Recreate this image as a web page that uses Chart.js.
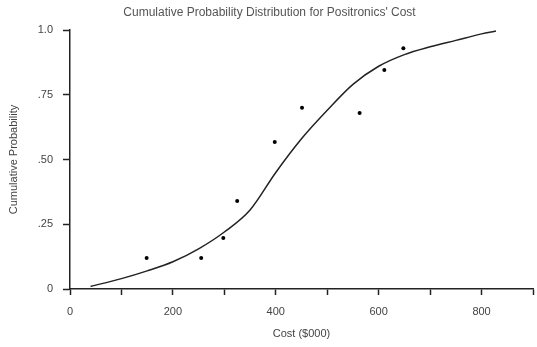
<!DOCTYPE html>
<html>
<head>
<meta charset="utf-8">
<script src="https://cdn.jsdelivr.net/npm/chart.js@4/dist/chart.umd.min.js"></script>
<style>
  body { margin: 0; background: #fff; }
  canvas { display: block; }
</style>
</head>
<body>
<canvas id="cdfChart" width="537" height="347"></canvas>
<script>
// fitted curve (cost in $000, cumulative probability)
var curveCost = [40, 100, 150, 200, 250, 300, 350, 400, 450, 500, 550, 600, 650, 700, 750, 800, 828];
var curveProb = [0.01, 0.04, 0.07, 0.105, 0.155, 0.22, 0.305, 0.45, 0.58, 0.69, 0.79, 0.86, 0.905, 0.935, 0.96, 0.985, 0.996];

// observed points
var obsCost = [149, 255, 298, 325, 398, 451, 563, 611, 648];
var obsProb = [0.12, 0.12, 0.197, 0.34, 0.568, 0.70, 0.68, 0.846, 0.93];

var yTickLabels = {0: '0', 0.25: '.25', 0.5: '.50', 0.75: '.75', 1: '1.0'};

function toPoints(xs, ys) {
    var pts = [];
    for (var i = 0; i < xs.length; i++) pts.push({x: xs[i], y: ys[i]});
    return pts;
}

var font = 'Liberation Sans, Arial, sans-serif';
var ctx = document.getElementById('cdfChart').getContext('2d');
new Chart(ctx, {
    type: 'scatter',
    data: {
        datasets: [
            {
                type: 'line',
                data: toPoints(curveCost, curveProb),
                borderColor: '#222',
                borderWidth: 1.5,
                pointRadius: 0,
                cubicInterpolationMode: 'monotone',
                fill: false
            },
            {
                data: toPoints(obsCost, obsProb),
                backgroundColor: '#000',
                borderColor: '#000',
                pointRadius: 2,
                borderWidth: 0
            }
        ]
    },
    options: {
        responsive: false,
        animation: false,
        layout: { padding: { left: 0, right: -2, top: 0, bottom: 0 } },
        plugins: {
            legend: { display: false },
            tooltip: { enabled: false },
            title: {
                display: true,
                text: "Cumulative Probability Distribution for Positronics' Cost",
                color: '#555',
                font: { family: font, size: 12, weight: 'normal' },
                padding: { top: 5, bottom: 10.6 }
            }
        },
        scales: {
            x: {
                type: 'linear',
                min: 0,
                max: 900,
                afterFit: function(scale) {
                    scale.height = 58;
                    scale.paddingLeft = 0;
                    scale.paddingRight = 0;
                },
                ticks: {
                    stepSize: 100,
                    autoSkip: false,
                    maxRotation: 0,
                    padding: 10,
                    color: '#444',
                    font: { family: font, size: 11 },
                    callback: function(v) { return v % 200 === 0 && v < 900 ? String(v) : ''; }
                },
                grid: { drawOnChartArea: false, drawTicks: true, tickLength: 6, color: '#222', tickWidth: 1.5 },
                border: { display: true, color: '#222', width: 1.5 },
                title: {
                    display: true,
                    text: 'Cost ($000)',
                    color: '#444',
                    font: { family: font, size: 11 },
                    padding: { top: 0, bottom: 6.4 }
                }
            },
            y: {
                min: 0,
                max: 1,
                afterFit: function(scale) { scale.width = 70; },
                ticks: {
                    stepSize: 0.25,
                    padding: 10,
                    color: '#444',
                    font: { family: font, size: 11 },
                    callback: function(v) { return yTickLabels[v] !== undefined ? yTickLabels[v] : ''; }
                },
                grid: { drawOnChartArea: false, drawTicks: true, tickLength: 7, color: '#222', tickWidth: 1.5 },
                border: { display: true, color: '#222', width: 1.5 },
                title: {
                    display: true,
                    text: 'Cumulative Probability',
                    color: '#444',
                    font: { family: font, size: 11 },
                    padding: { top: 7.4, bottom: 0 }
                }
            }
        }
    }
});
</script>
</body>
</html>
